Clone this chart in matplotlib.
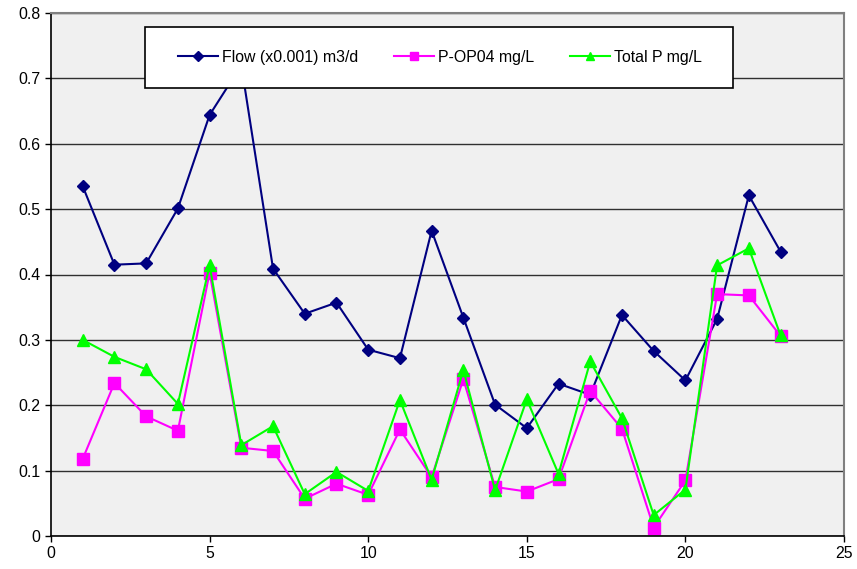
import matplotlib
matplotlib.use("Agg")
from matplotlib import pyplot as plt
from matplotlib.patches import Rectangle
from matplotlib.ticker import FormatStrFormatter

plt.rcParams['font.family'] = ['Liberation Sans', 'DejaVu Sans']

day = list(range(1, 24))
flow = [0.535, 0.415, 0.417, 0.501, 0.644, 0.72, 0.409, 0.340, 0.357, 0.285,
        0.272, 0.467, 0.334, 0.201, 0.165, 0.233, 0.216, 0.338, 0.283, 0.238,
        0.332, 0.521, 0.435]
p_op04 = [0.118, 0.234, 0.183, 0.161, 0.403, 0.135, 0.130, 0.057, 0.080, 0.063,
          0.163, 0.090, 0.240, 0.075, 0.068, 0.087, 0.222, 0.164, 0.013, 0.085,
          0.370, 0.368, 0.306]
total_p = [0.300, 0.274, 0.255, 0.202, 0.414, 0.139, 0.168, 0.064, 0.098, 0.069,
           0.208, 0.086, 0.254, 0.070, 0.209, 0.095, 0.267, 0.180, 0.032, 0.071,
           0.414, 0.440, 0.307]

W, H = 857, 569
fig = plt.figure(figsize=(W / 100, H / 100), dpi=100)
ax = fig.add_axes([51 / W, 1 - 536 / H, 793 / W, 523 / H])
ax.set_facecolor('#f0f0f0')

ax.plot(day, flow, color='#000080', marker='D', markersize=6.5, lw=1.5,
        label='Flow (x0.001) m3/d')
ax.plot(day, p_op04, color='#ff00ff', marker='s', markersize=8, lw=1.5,
        label='P-OP04 mg/L')
ax.plot(day, total_p, color='#00ff00', marker='^', markersize=8, lw=1.5,
        label='Total P mg/L')

ax.set_xlim(0, 25)
ax.set_ylim(0, 0.8)
ax.set_xticks(range(0, 26, 5))
ax.set_yticks([i / 10 for i in range(9)])
ax.yaxis.set_major_formatter(FormatStrFormatter('%g'))
ax.yaxis.grid(True, color='#303030', lw=1)
ax.set_axisbelow(True)
ax.tick_params(direction='out', length=4, width=1, labelsize=11.4, colors='black')
for s in ['top', 'right']:
    ax.spines[s].set_color('#808080')
    ax.spines[s].set_linewidth(1.5)
for s in ['left', 'bottom']:
    ax.spines[s].set_color('black')
    ax.spines[s].set_linewidth(1.2)

# legend box (white, drawn over the plot lines)
box = Rectangle((145 / W, 1 - 88 / H), 588 / W, 61 / H, transform=fig.transFigure,
                facecolor='white', edgecolor='black', lw=1.2, zorder=5)
fig.add_artist(box)
leg = fig.legend(loc='center', bbox_to_anchor=(440 / W, 1 - 57.5 / H),
                 ncol=3, fontsize=11.4, frameon=False,
                 borderpad=0, columnspacing=2.3, handlelength=2.5,
                 handletextpad=0.25, markerscale=0.75)
leg.set_zorder(6)

fig.savefig('out.png', dpi=100)
